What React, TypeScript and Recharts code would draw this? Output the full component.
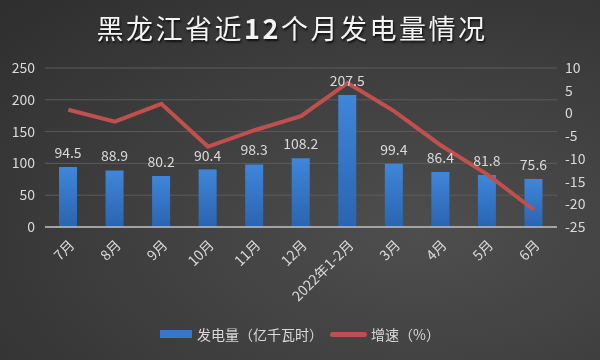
import React from "react"
import {
    ComposedChart,
    Bar,
    Line,
    XAxis,
    YAxis,
    CartesianGrid,
    Legend,
    LabelList,
} from "recharts"

// 月份 / 发电量（亿千瓦时）/ 增速（%）
const months = ["7月", "8月", "9月", "10月", "11月", "12月", "2022年1-2月", "3月", "4月", "5月", "6月"]
const output = [94.5, 88.9, 80.2, 90.4, 98.3, 108.2, 207.5, 99.4, 86.4, 81.8, 75.6]
const growth = [0.8, -1.8, 2.1, -7.3, -3.7, -0.6, 6.7, 0.5, -7.0, -13.4, -21.2]

const leftTicks = [0, 50, 100, 150, 200, 250]
const rightTicks = [-25, -20, -15, -10, -5, 0, 5, 10]

const TEXT = "#d9d9d9"
const FONT = "'Noto Sans CJK SC', 'Noto Sans', sans-serif"

const chartData = months.map((m, i) => ({ month: m, output: output[i], growth: growth[i] }))

const LegendContent = () => (
    <div style={{ display: "flex", justifyContent: "center", alignItems: "center", fontSize: 14, color: TEXT, fontFamily: FONT }}>
        <span style={{ display: "inline-block", width: 32, height: 8, background: "#3577c8", marginRight: 5 }} />
        <span>发电量（亿千瓦时）</span>
        <span style={{ display: "inline-block", width: 37, height: 5, borderRadius: 3, background: "#c0504d", margin: "0 4px 0 7px" }} />
        <span>增速（%）</span>
    </div>
)

export default function App() {
    return (
        <div
            style={{
                position: "fixed",
                left: 0,
                top: 0,
                width: 600,
                height: 360,
                background: "radial-gradient(ellipse at 70% 65%, #4e4e4e 0%, #404040 45%, #2e2e2e 100%)",
                fontFamily: FONT,
            }}
        >
            <div
                style={{
                    position: "absolute",
                    top: 11,
                    left: -8,
                    width: 600,
                    textAlign: "center",
                    fontSize: 27,
                    color: "#f4f4f4",
                    letterSpacing: 2.5,
                    textShadow: "1px 2px 2px #111",
                    lineHeight: "34px",
                }}
            >
                黑龙江省近<b>12</b>个月发电量情况
            </div>
            <ComposedChart
                width={600}
                height={360}
                data={chartData}
                margin={{ top: 68, right: 0, left: 0, bottom: 53 }}
            >
                <defs>
                    <linearGradient id="barFill" x1="0" y1="0" x2="0" y2="1">
                        <stop offset="0%" stopColor="#3f86da" />
                        <stop offset="100%" stopColor="#2a64b0" />
                    </linearGradient>
                </defs>
                <CartesianGrid yAxisId="left" stroke="#5c5c5c" vertical={false} />
                <XAxis
                    dataKey="month"
                    interval={0}
                    height={80}
                    angle={-45}
                    textAnchor="end"
                    tickLine={false}
                    axisLine={{ stroke: "#bfbfbf", strokeWidth: 1.5 }}
                    tick={{ fontSize: 14, fill: TEXT, fontFamily: FONT }}
                    tickMargin={6}
                />
                <YAxis
                    yAxisId="left"
                    domain={[0, 250]}
                    ticks={leftTicks}
                    width={45}
                    axisLine={false}
                    tickLine={false}
                    tickSize={0}
                    tickMargin={10}
                    tick={{ fontSize: 14, fill: TEXT, fontFamily: FONT }}
                />
                <YAxis
                    yAxisId="right"
                    orientation="right"
                    domain={[-25, 10]}
                    ticks={rightTicks}
                    width={43}
                    axisLine={false}
                    tickLine={false}
                    tickSize={0}
                    tickMargin={8}
                    tick={{ fontSize: 14, fill: TEXT, fontFamily: FONT }}
                />
                <Legend
                    verticalAlign="middle"
                    align="center"
                    layout="horizontal"
                    content={<LegendContent />}
                    wrapperStyle={{ top: 324, left: 0, width: 600 }}
                />
                <Bar yAxisId="left" dataKey="output" fill="url(#barFill)" barSize={18} isAnimationActive={false}>
                    <LabelList dataKey="output" position="top" offset={9} fill={TEXT} fontSize={14} fontFamily={FONT} />
                </Bar>
                <Line
                    yAxisId="right"
                    type="linear"
                    dataKey="growth"
                    stroke="#c0504d"
                    strokeWidth={4}
                    dot={false}
                    activeDot={false}
                    isAnimationActive={false}
                />
            </ComposedChart>
        </div>
    )
}
